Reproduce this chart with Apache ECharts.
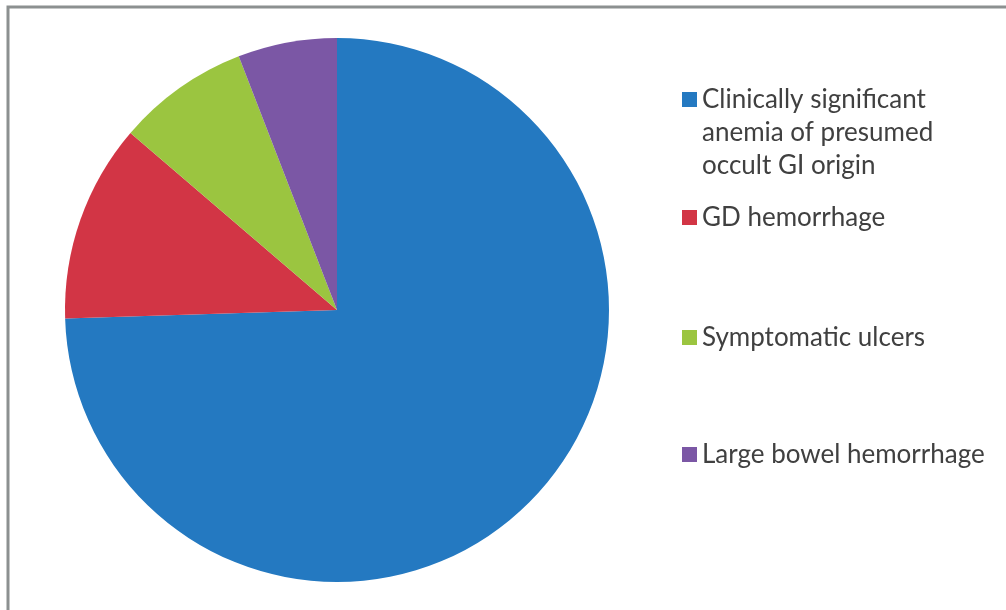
<!DOCTYPE html>
<html>
<head>
<meta charset="utf-8">
<script src="https://cdn.jsdelivr.net/npm/echarts@6/dist/echarts.min.js"></script>
<style>
  html, body { margin: 0; padding: 0; background: #fff; }
  #chart01 { width: 1006px; height: 610px; }
</style>
</head>
<body>
<div id="chart01"></div>
<script>
// data
var categories = [
    "Clinically significant\nanemia of presumed\noccult GI origin",
    "GD hemorrhage",
    "Symptomatic ulcers",
    "Large bowel hemorrhage"
];
var values = [38, 6, 4, 3];
var colors = ["#2479c1", "#d23545", "#9bc540", "#7b57a5"];
var lineCounts = [3, 1, 1, 1];

// vertical centre of each legend square
var legendCenters = [99.5, 217.5, 337.5, 454.5];
var lineH = 33;

var myChart01 = echarts.init(document.getElementById('chart01'));

var legends = categories.map(function (name, i) {
    var extra = lineCounts[i] - 1;
    // blank lines in front so the square sits beside the first line
    var prefix = new Array(extra + 1).join("\n");
    var boxH = (lineCounts[i] + extra) * lineH;
    return {
        orient: "vertical",
        left: 682,
        top: legendCenters[i] - boxH / 2,
        padding: 0,
        itemWidth: 15,
        itemHeight: 15,
        icon: "rect",
        selectedMode: false,
        data: [name],
        formatter: function (n) { return prefix + n; },
        textStyle: {
            fontFamily: "Lato",
            fontSize: 26,
            lineHeight: lineH,
            color: "#404040"
        }
    };
});

var option = {
    animation: false,
    color: colors,
    legend: legends,
    graphic: [{
        type: "rect",
        shape: { x: 8, y: 7, width: 1100, height: 700 },
        style: { fill: null, stroke: "#8c9090", lineWidth: 3 }
    }],
    series: [{
        type: "pie",
        center: [337, 310],
        radius: 272,
        startAngle: 90,
        clockwise: true,
        label: { show: false },
        labelLine: { show: false },
        itemStyle: { borderWidth: 0 },
        emphasis: { disabled: true },
        data: categories.map(function (c, i) { return { name: c, value: values[i] }; })
    }]
};
myChart01.setOption(option);
</script>
</body>
</html>
